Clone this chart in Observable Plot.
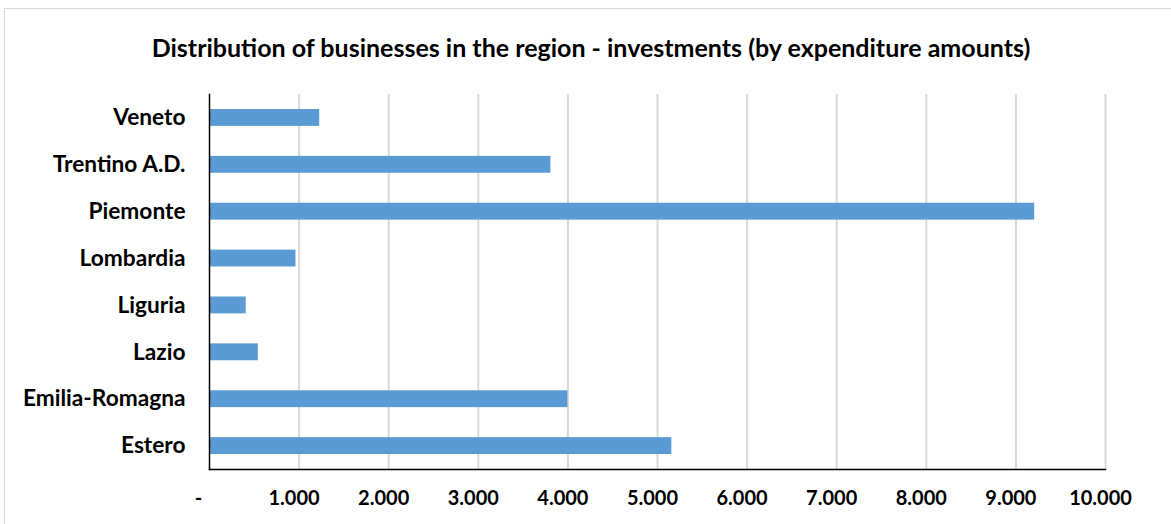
<!DOCTYPE html>
<html>
<head>
<meta charset="utf-8">
<script src="https://cdn.jsdelivr.net/npm/d3@7"></script>
<script src="https://cdn.jsdelivr.net/npm/@observablehq/plot@0.6"></script>
<style>
  html, body { margin: 0; padding: 0; background: #fff; overflow: hidden; }
  #wrap { position: relative; width: 1171px; height: 524px; overflow: hidden; }
  #frame { position: absolute; left: 4px; top: 8px; width: 1200px; height: 600px; border: 1.5px solid #d9d9d9; box-sizing: border-box; }
  #title { position: absolute; left: 0; top: 31px; width: 1182px; text-align: center; font-family: Lato, sans-serif; font-weight: bold; font-size: 25px; line-height: 32px; color: #000; white-space: nowrap; }
  #chart { position: absolute; left: 0; top: 0; }
</style>
</head>
<body>
<div id="wrap">
  <div id="frame"></div>
  <div id="title">Distribution of businesses in the region - investments (by expenditure amounts)</div>
  <div id="chart"></div>
</div>
<script>
const regions = ["Veneto", "Trentino A.D.", "Piemonte", "Lombardia", "Liguria", "Lazio", "Emilia-Romagna", "Estero"];
const amounts = [1230, 3810, 9210, 965, 410, 545, 4000, 5160];
const xTicks = [0, 1000, 2000, 3000, 4000, 5000, 6000, 7000, 8000, 9000, 10000];

const data = regions.map((r, i) => ({region: r, amount: amounts[i]}));
const fmt = d => d === 0 ? "-" : d3.format(",")(d).replace(/,/g, ".");

const chart = Plot.plot({
  width: 1171,
  height: 524,
  marginTop: 94,
  marginBottom: 55,
  marginLeft: 209,
  marginRight: 66,
  style: {fontFamily: "Lato, sans-serif", fontWeight: "bold", color: "#000", background: "transparent"},
  x: {domain: [0, 10000], label: null},
  y: {domain: regions, paddingInner: 0.64, paddingOuter: 0.32, round: false, label: null},
  marks: [
    Plot.ruleX(xTicks.slice(1), {stroke: "#d9d9d9", strokeWidth: 2}),
    Plot.barX(data, {x: "amount", y: "region", fill: "#5b9bd5"}),
    Plot.axisX(xTicks.slice(1), {tickFormat: fmt, tickSize: 0, tickPadding: 21, dx: -5, label: null, fontWeight: "bold", fontSize: 20}),
    Plot.axisX([0], {tickFormat: fmt, tickSize: 0, tickPadding: 21, dx: -11, label: null, fontWeight: "bold", fontSize: 20}),
    Plot.axisY({tickSize: 0, tickPadding: 24, label: null, fontWeight: "bold", fontSize: 22.7}),
    Plot.frame({anchor: "left", stroke: "#000", strokeWidth: 1.5}),
    Plot.frame({anchor: "bottom", stroke: "#000", strokeWidth: 1.5})
  ]
});
document.getElementById("chart").appendChild(chart);
</script>
</body>
</html>
